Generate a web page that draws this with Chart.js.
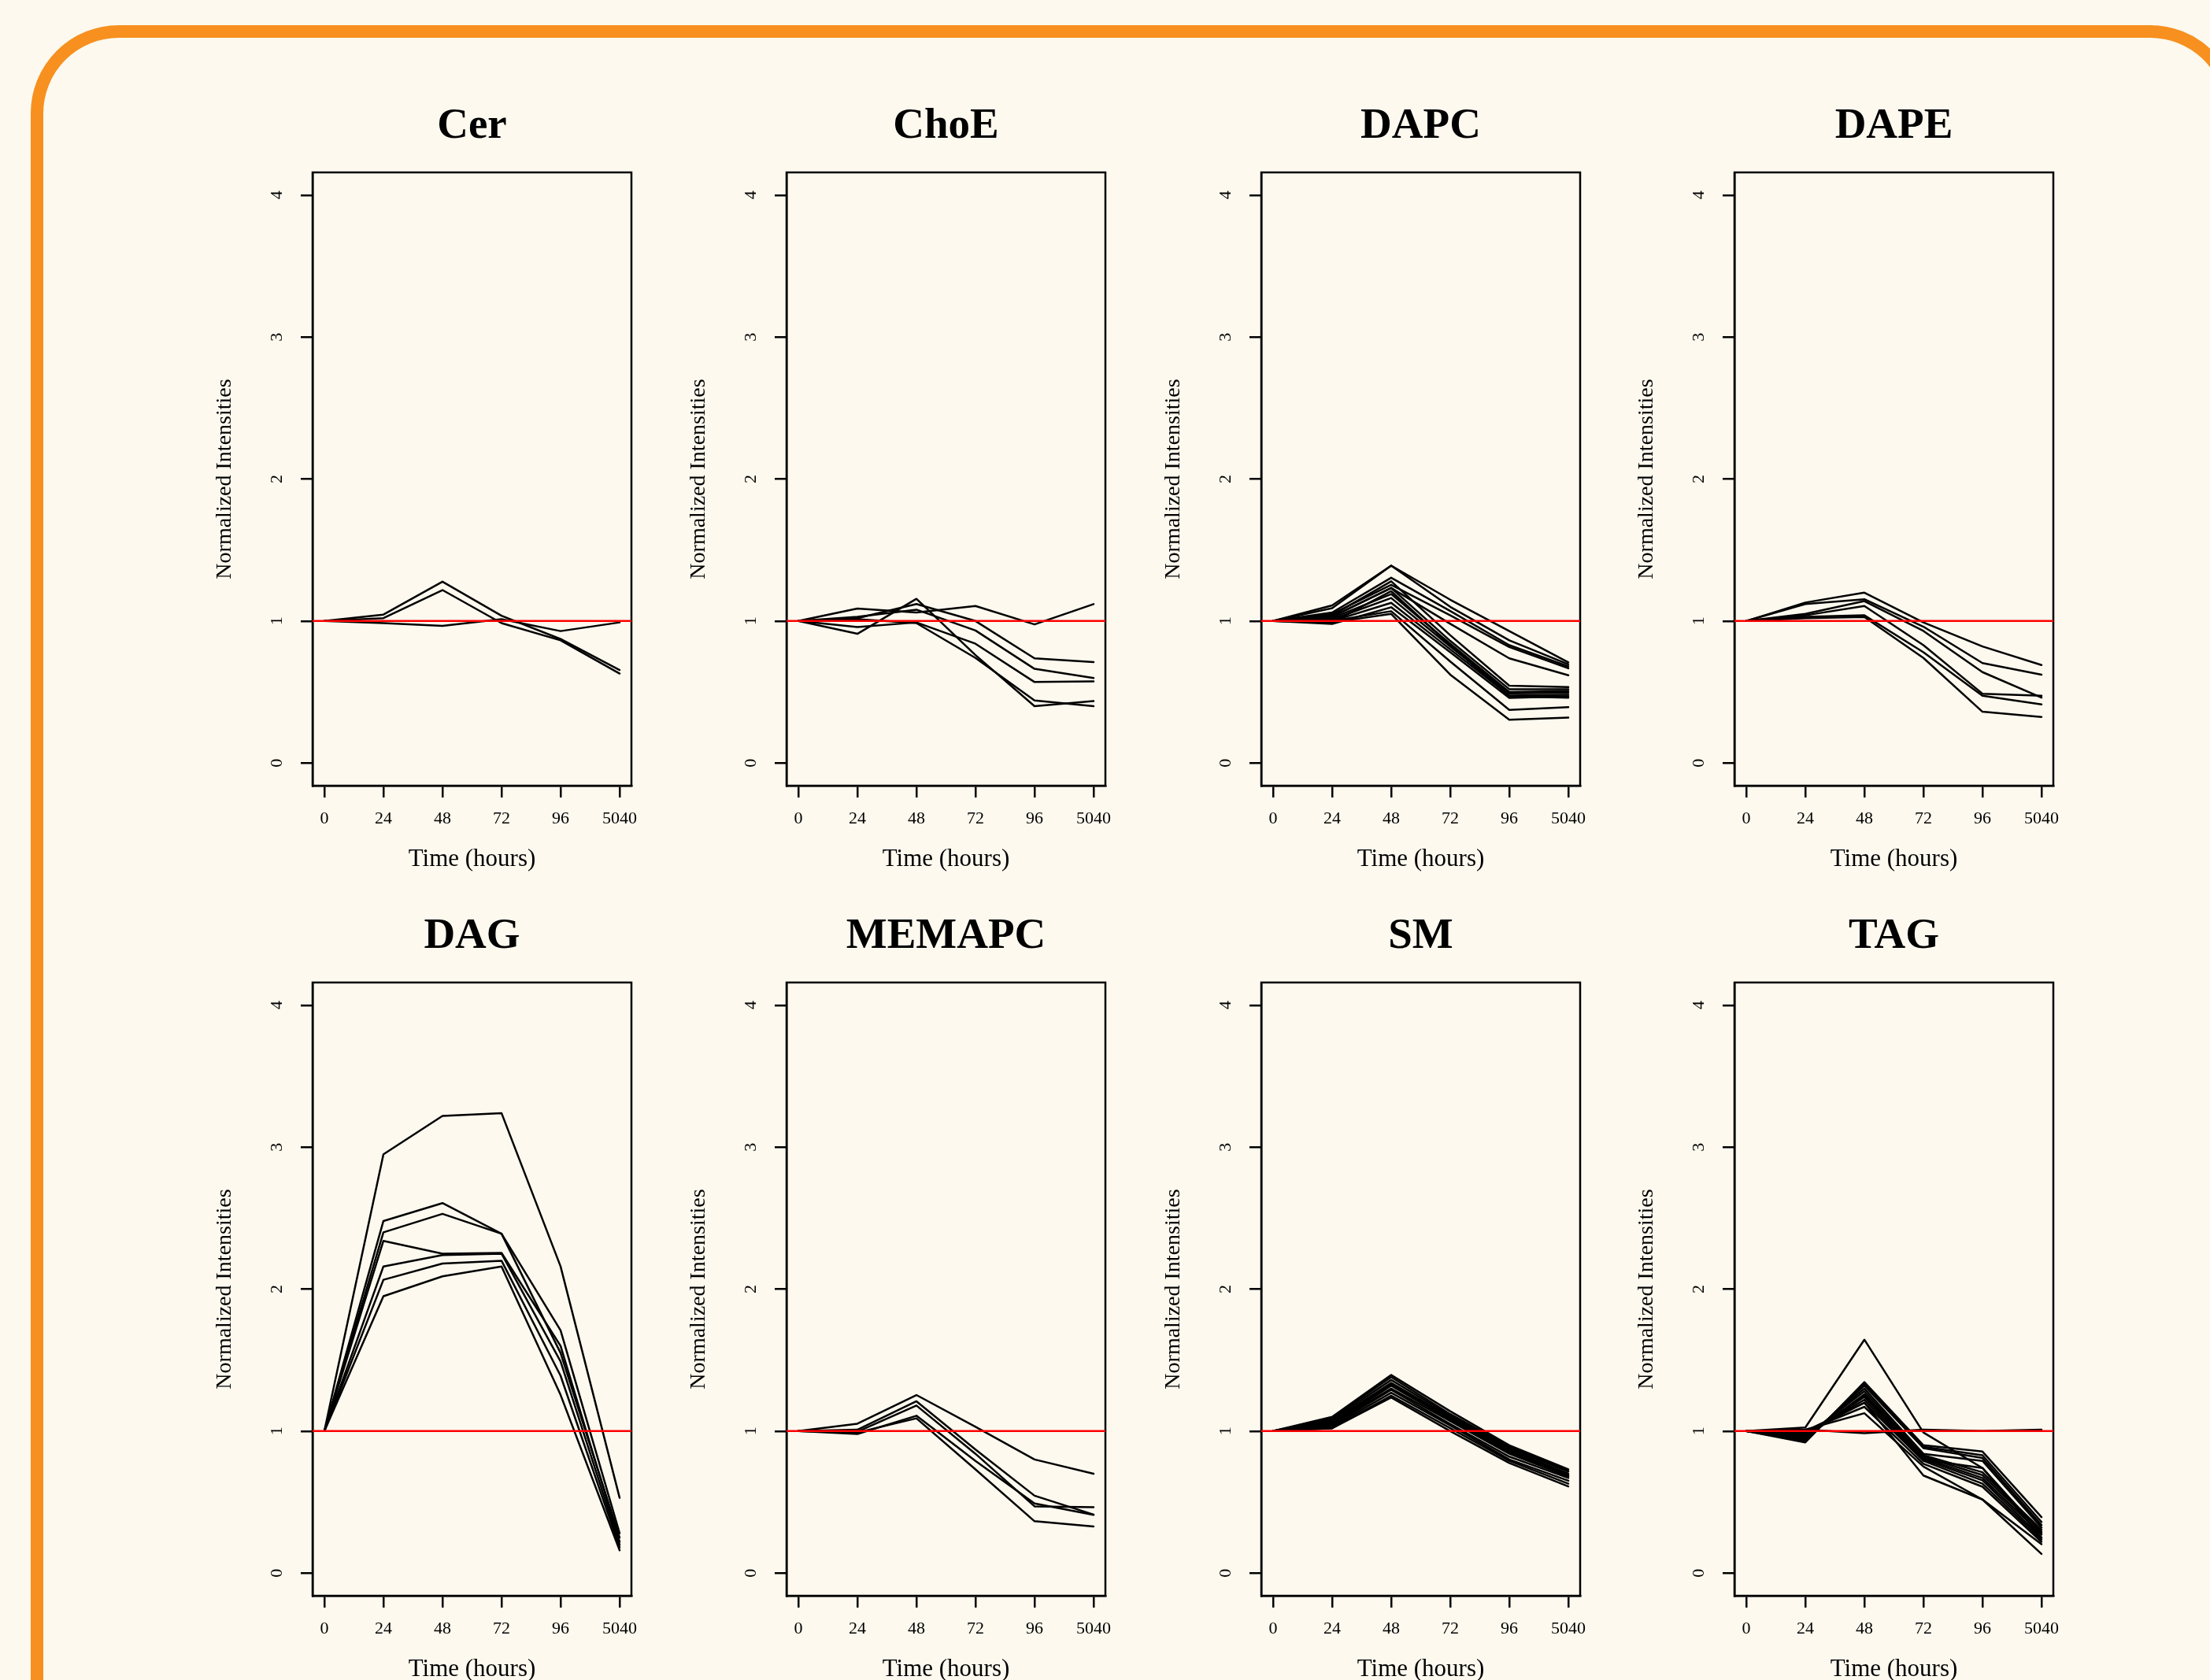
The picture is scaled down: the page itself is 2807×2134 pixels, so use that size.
<!DOCTYPE html>
<html>
<head>
<meta charset="utf-8">
<title>Normalized intensities by lipid class</title>
<script src="https://cdn.jsdelivr.net/npm/chart.js@4.4.1/dist/chart.umd.min.js"></script>
<style>
  html, body { margin: 0; padding: 0; }
  body { width: 2807px; height: 2134px; background: #fdf9ef; position: relative; overflow: hidden; }
  #frame { position: absolute; left: 39px; top: 32px; width: 2804px; height: 2400px; box-sizing: border-box;
           border: 16px solid #f7901e; border-radius: 112px; }
  canvas { position: absolute; }
</style>
</head>
<body>
<div id="frame"></div>
<script>
// x positions are evenly spaced, labels are the sampling times
const timeLabels = ['0', '24', '48', '72', '96', '5040']
const yTicks = [0, 1, 2, 3, 4]
const refLevel = 1
const panelTitles = ['Cer', 'ChoE', 'DAPC', 'DAPE', 'DAG', 'MEMAPC', 'SM', 'TAG']

const cerSeries = [
  [1, 1.045, 1.277, 1.037, 0.873, 0.655],
  [1, 1.02, 1.218, 0.985, 0.864, 0.63],
  [1, 0.985, 0.966, 1.013, 0.929, 0.99]
]
const choeSeries = [
  [1, 1.088, 1.06, 1.106, 0.976, 1.119],
  [1, 0.91, 1.156, 0.76, 0.40, 0.436],
  [1, 1.013, 0.985, 0.74, 0.44, 0.40],
  [1, 1.02, 1.12, 1.0, 0.737, 0.711],
  [1, 1.03, 1.08, 0.933, 0.663, 0.598],
  [1, 0.957, 0.99, 0.84, 0.57, 0.575]
]
const dapcSeries = [
  [1, 1.11, 1.39, 1.15, 0.929, 0.709],
  [1, 1.09, 1.39, 1.10, 0.864, 0.695],
  [1, 1.06, 1.305, 1.07, 0.83, 0.68],
  [1, 1.05, 1.255, 1.04, 0.817, 0.667],
  [1, 1.03, 1.233, 0.98, 0.737, 0.618],
  [1, 1.04, 1.28, 0.90, 0.544, 0.534],
  [1, 1.03, 1.233, 0.86, 0.52, 0.52],
  [1, 1.02, 1.19, 0.84, 0.50, 0.507],
  [1, 1.01, 1.162, 0.82, 0.49, 0.495],
  [1, 1.0, 1.128, 0.80, 0.475, 0.48],
  [1, 0.98, 1.097, 0.78, 0.458, 0.47],
  [1, 0.99, 1.21, 0.83, 0.47, 0.46],
  [1, 1.0, 1.069, 0.715, 0.374, 0.393],
  [1, 0.99, 1.05, 0.622, 0.305, 0.32]
]
const dapeSeries = [
  [1, 1.13, 1.2, 0.99, 0.821, 0.69],
  [1, 1.12, 1.153, 0.96, 0.704, 0.622],
  [1, 1.05, 1.14, 0.93, 0.64, 0.46],
  [1, 1.04, 1.106, 0.83, 0.488, 0.473],
  [1, 1.03, 1.04, 0.78, 0.473, 0.412],
  [1, 1.02, 1.028, 0.74, 0.361, 0.324]
]
const dagSeries = [
  [1, 2.95, 3.22, 3.24, 2.16, 0.53],
  [1, 2.48, 2.606, 2.39, 1.71, 0.28],
  [1, 2.40, 2.53, 2.39, 1.55, 0.25],
  [1, 2.34, 2.25, 2.255, 1.60, 0.22],
  [1, 2.16, 2.24, 2.25, 1.49, 0.20],
  [1, 2.066, 2.18, 2.20, 1.39, 0.18],
  [1, 1.95, 2.09, 2.16, 1.255, 0.16]
]
const memapcSeries = [
  [1, 1.052, 1.254, 1.03, 0.80, 0.70],
  [1, 1.01, 1.21, 0.87, 0.545, 0.412],
  [1, 0.995, 1.18, 0.84, 0.47, 0.464],
  [1, 0.98, 1.108, 0.79, 0.49, 0.41],
  [1, 0.99, 1.09, 0.73, 0.365, 0.328]
]
const smSeries = [
  [1, 1.10, 1.395, 1.14, 0.90, 0.73],
  [1, 1.09, 1.38, 1.12, 0.89, 0.72],
  [1, 1.08, 1.36, 1.11, 0.88, 0.715],
  [1, 1.07, 1.34, 1.10, 0.87, 0.70],
  [1, 1.06, 1.33, 1.09, 0.86, 0.69],
  [1, 1.05, 1.32, 1.08, 0.85, 0.685],
  [1, 1.05, 1.30, 1.07, 0.84, 0.68],
  [1, 1.04, 1.29, 1.05, 0.82, 0.67],
  [1, 1.03, 1.27, 1.04, 0.80, 0.65],
  [1, 1.02, 1.25, 1.02, 0.79, 0.63],
  [1, 1.02, 1.237, 1.00, 0.775, 0.61]
]
const tagSeries = [
  [1, 1.01, 0.985, 1.01, 1.0, 1.01],
  [1, 1.025, 1.644, 0.99, 0.74, 0.25],
  [1, 0.92, 1.345, 0.90, 0.856, 0.394],
  [1, 0.93, 1.33, 0.89, 0.83, 0.36],
  [1, 0.94, 1.32, 0.88, 0.81, 0.338],
  [1, 0.95, 1.30, 0.84, 0.79, 0.32],
  [1, 0.96, 1.28, 0.83, 0.71, 0.304],
  [1, 0.95, 1.26, 0.82, 0.69, 0.29],
  [1, 0.97, 1.24, 0.81, 0.67, 0.27],
  [1, 0.98, 1.22, 0.80, 0.653, 0.25],
  [1, 0.99, 1.20, 0.79, 0.63, 0.236],
  [1, 1.0, 1.171, 0.77, 0.608, 0.22],
  [1, 1.01, 1.126, 0.75, 0.518, 0.203],
  [1, 1.0, 1.20, 0.687, 0.518, 0.135],
  [1, 0.96, 1.25, 0.80, 0.74, 0.28]
]
const allSeries = [cerSeries, choeSeries, dapcSeries, dapeSeries, dagSeries, memapcSeries, smSeries, tagSeries]

// page layout (plot box of each panel)
const colLeft = [397, 999, 1602, 2203]
const rowTop = [219, 1248]
const boxW = 405, boxH = 779
const padL = 160, titleH = 119, xAxisH = 120
const fontFam = '"Liberation Serif", "Times New Roman", serif'

const xPos = timeLabels.map((t, i) => i + 1)
// R pads the data range by 4% on each side
const xMin = 0.8, xMax = 6.2
const yMin = -0.16, yMax = 4.16

const boxPlugin = {
  id: 'box',
  beforeDatasetsDraw(chart) {
    const {ctx, chartArea: a} = chart
    ctx.save()
    ctx.strokeStyle = '#000'
    ctx.lineWidth = 2.5
    ctx.strokeRect(a.left, a.top, a.right - a.left, a.bottom - a.top)
    ctx.restore()
  }
}

const axisGrid = {display: true, drawOnChartArea: false, drawTicks: true, tickLength: 15, color: '#000', lineWidth: 2.5}
const axisBorder = {display: true, color: '#000', width: 2.5}

panelTitles.forEach((name, p) => {
  const canvas = document.createElement('canvas')
  const w = 2 * (padL + boxW / 2), h = titleH + boxH + xAxisH
  canvas.width = w
  canvas.height = h
  canvas.style.width = w + 'px'
  canvas.style.height = h + 'px'
  canvas.style.left = (colLeft[p % 4] - padL) + 'px'
  canvas.style.top = (rowTop[Math.floor(p / 4)] - titleH) + 'px'
  document.body.appendChild(canvas)

  // red reference line first so it is drawn on top
  const datasets = [{data: [{x: xMin, y: refLevel}, {x: xMax, y: refLevel}], borderColor: '#ff0000', borderWidth: 2.5}]
  allSeries[p].forEach(s => datasets.push({data: s, borderColor: '#000', borderWidth: 2.5}))

  new Chart(canvas, {
    type: 'line',
    data: {labels: xPos, datasets: datasets},
    plugins: [boxPlugin],
    options: {
      responsive: false,
      animation: false,
      devicePixelRatio: 1,
      layout: {padding: {left: 0, right: padL, top: 0, bottom: 0}},
      elements: {
        line: {tension: 0, borderJoinStyle: 'round', borderCapStyle: 'round'},
        point: {radius: 0, hoverRadius: 0}
      },
      plugins: {
        legend: {display: false},
        tooltip: {enabled: false},
        title: {
          display: true, fullSize: false, text: name, color: '#000',
          font: {family: fontFam, size: 55, weight: 'bold', lineHeight: 1},
          padding: {top: 33, bottom: 31}
        }
      },
      scales: {
        x: {
          type: 'linear', min: xMin, max: xMax,
          afterBuildTicks: s => { s.ticks = xPos.map(v => ({value: v})) },
          afterFit: s => { s.height = xAxisH },
          ticks: {
            autoSkip: false, maxRotation: 0, padding: 14, color: '#000',
            font: {family: fontFam, size: 22},
            callback: v => timeLabels[v - 1]
          },
          grid: axisGrid,
          border: axisBorder,
          title: {display: true, text: 'Time (hours)', color: '#000', font: {family: fontFam, size: 31}, padding: {top: 0, bottom: 8}}
        },
        y: {
          type: 'linear', min: yMin, max: yMax,
          afterBuildTicks: s => { s.ticks = yTicks.map(v => ({value: v})) },
          afterFit: s => { s.width = padL },
          ticks: {
            minRotation: 90, maxRotation: 90, crossAlign: 'center', padding: 24, color: '#000',
            font: {family: fontFam, size: 22}
          },
          grid: axisGrid,
          border: axisBorder,
          title: {display: true, text: 'Normalized Intensities', color: '#000', font: {family: fontFam, size: 28}, padding: {top: 32, bottom: 0}}
        }
      }
    }
  })
})
</script>
</body>
</html>
